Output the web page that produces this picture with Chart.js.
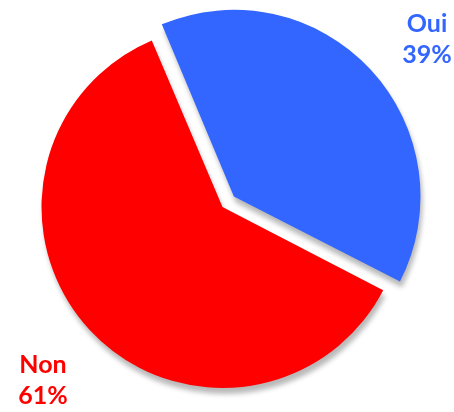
<!DOCTYPE html>
<html>
<head>
<meta charset="utf-8">
<script src="https://cdn.jsdelivr.net/npm/chart.js@4"></script>
<style>
  html, body { margin: 0; padding: 0; background: #fff; }
  #wrap { width: 454px; height: 412px; }
</style>
</head>
<body>
<div id="wrap"><canvas id="pieChart"></canvas></div>
<script>
// data
const labels = ['Oui', 'Non'];
const values = [39, 61];
const colors = ['#3366FF', '#FF0000'];

// gray drop shadow under the slices
const shadowPlugin = {
    id: 'shadow',
    beforeDatasetsDraw: (chart) => {
        const ctx = chart.ctx;
        ctx.save();
        ctx.shadowColor = 'rgba(0, 0, 0, 0.28)';
        ctx.shadowBlur = 5;
        ctx.shadowOffsetX = 2;
        ctx.shadowOffsetY = 6;
    },
    afterDatasetsDraw: (chart) => {
        chart.ctx.restore();
    }
};

// "Oui 39%" / "Non 61%" labels in the corners
const cornerLabels = {
    id: 'cornerLabels',
    afterDraw: (chart) => {
        const ctx = chart.ctx;
        const total = values.reduce((a, b) => a + b, 0);
        const spots = [
            { x: 427, y: 32 },   // Oui
            { x: 43, y: 373 }    // Non
        ];
        ctx.save();
        ctx.font = 'bold 25px Lato';
        ctx.textAlign = 'center';
        ctx.textBaseline = 'alphabetic';
        labels.forEach((lab, i) => {
            const pct = Math.round(values[i] / total * 100) + '%';
            ctx.fillStyle = colors[i];
            ctx.fillText(lab, spots[i].x, spots[i].y);
            ctx.fillText(pct, spots[i].x, spots[i].y + 31);
        });
        ctx.restore();
    }
};

const ctx = document.getElementById('pieChart').getContext('2d');
new Chart(ctx, {
    type: 'pie',
    data: {
        labels: labels,
        datasets: [{
            data: values,
            backgroundColor: colors,
            borderWidth: 0,
            offset: [62, 0]
        }]
    },
    options: {
        responsive: true,
        maintainAspectRatio: false,
        animation: false,
        rotation: -23,
        radius: 181,
        layout: { padding: { left: 0, right: 9, top: 2, bottom: 0 } },
        plugins: {
            legend: { display: false },
            tooltip: { enabled: false }
        }
    },
    plugins: [shadowPlugin, cornerLabels]
});
</script>
</body>
</html>
